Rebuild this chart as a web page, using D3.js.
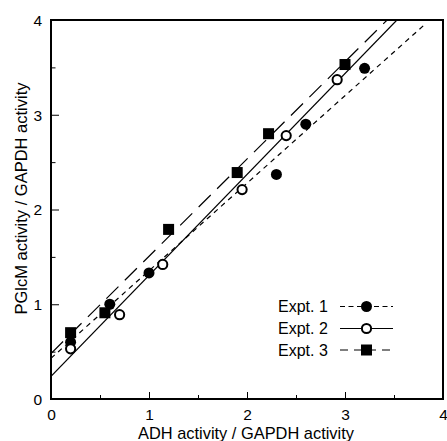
<!DOCTYPE html>
<html><head><meta charset="utf-8">
<script src="https://cdn.jsdelivr.net/npm/d3@7"></script>
<style>body{margin:0;background:#fff}svg{display:block}text{font-family:"Liberation Sans",Arial,sans-serif;fill:#000}</style>
</head><body>
<svg id="c" width="447" height="441"></svg>
<script>
// Data
const expt1X = [0.2, 0.6, 1.0, 2.3, 2.6, 3.2];
const expt1Y = [0.6, 1.0, 1.33, 2.37, 2.9, 3.49];
const expt2X = [0.2, 0.7, 1.14, 1.95, 2.4, 2.92];
const expt2Y = [0.53, 0.89, 1.42, 2.21, 2.78, 3.37];
const expt3X = [0.2, 0.55, 1.2, 1.9, 2.22, 3.0];
const expt3Y = [0.7, 0.91, 1.79, 2.39, 2.8, 3.53];
// fitted line end points [x, y]
const fit1 = [[0, 0.43], [3.8, 3.94]];
const fit2 = [[0, 0.24], [3.53, 4.0]];
const fit3 = [[0, 0.48], [3.43, 4.0]];
const majorTicks = [0, 1, 2, 3, 4];
const minorTicks = [0.5, 1.5, 2.5, 3.5];
const legendLabels = ["Expt. 1", "Expt. 2", "Expt. 3"];

const L = 51, R = 443, T = 20, B = 399;
const x = d3.scaleLinear().domain([0, 4]).range([L, R]);
const y = d3.scaleLinear().domain([0, 4]).range([B, T]);
const svg = d3.select("#c");

const series = [
  {xs: expt1X, ys: expt1Y, fit: fit1, dash: "5,4.5", mk: "fcircle"},
  {xs: expt2X, ys: expt2Y, fit: fit2, dash: null, mk: "ocircle"},
  {xs: expt3X, ys: expt3Y, fit: fit3, dash: "17,9", mk: "square"}
];

const line = d3.line().x(d => x(d[0])).y(d => y(d[1]));
svg.append("clipPath").attr("id", "clip").append("rect")
  .attr("x", L).attr("y", T).attr("width", R - L).attr("height", B - T);
const g = svg.append("g").attr("clip-path", "url(#clip)");
series.forEach(s => {
  g.append("path").attr("d", line(s.fit)).attr("fill", "none")
    .attr("stroke", "#000").attr("stroke-width", 1.2)
    .attr("stroke-dasharray", s.dash);
});

function marker(sel, type, cx, cy) {
  if (type === "square") {
    sel.append("rect").attr("x", cx - 5.5).attr("y", cy - 5.5)
      .attr("width", 11).attr("height", 11).attr("fill", "#000");
  } else if (type === "fcircle") {
    sel.append("circle").attr("cx", cx).attr("cy", cy).attr("r", 5.5).attr("fill", "#000");
  } else {
    sel.append("circle").attr("cx", cx).attr("cy", cy).attr("r", 4.6)
      .attr("fill", "#fff").attr("stroke", "#000").attr("stroke-width", 2);
  }
}
series.forEach(s => {
  s.xs.forEach((xv, i) => marker(svg, s.mk, x(xv), y(s.ys[i])));
});

// Axes with inward ticks
const xAxis = d3.axisBottom(x).tickValues(majorTicks).tickSize(-7).tickPadding(16).tickFormat(d3.format("d"));
const yAxis = d3.axisLeft(y).tickValues(majorTicks).tickSize(-8).tickPadding(16).tickFormat(d3.format("d"));
const gx = svg.append("g").attr("transform", `translate(0,${B})`).call(xAxis);
const gy = svg.append("g").attr("transform", `translate(${L},0)`).call(yAxis);
svg.append("g").attr("transform", `translate(0,${B})`)
  .call(d3.axisBottom(x).tickValues(minorTicks).tickSize(-4).tickFormat(""));
svg.append("g").attr("transform", `translate(${L},0)`)
  .call(d3.axisLeft(y).tickValues(minorTicks).tickSize(-4.5).tickFormat(""));
svg.selectAll(".domain").remove();
svg.selectAll(".tick line").attr("stroke", "#000").attr("stroke-width", 1);
gx.selectAll("text").attr("font-size", 15.5).attr("dy", "0.71em").attr("y", 10);
gy.selectAll("text").attr("font-size", 15.5).attr("x", -9).attr("dy", "0.35em");

// frame
svg.append("rect").attr("x", L).attr("y", T).attr("width", R - L).attr("height", B - T)
  .attr("fill", "none").attr("stroke", "#000").attr("stroke-width", 2);

// axis titles
svg.append("text").attr("x", 246).attr("y", 439).attr("text-anchor", "middle")
  .attr("font-size", 16.4).text("ADH activity / GAPDH activity");
svg.append("text").attr("transform", `translate(26.5,198.5) rotate(-90)`).attr("text-anchor", "middle")
  .attr("font-size", 16.5).text("PGlcM activity / GAPDH activity");

// legend
const ly = [306.5, 328.5, 350];
series.forEach((s, i) => {
  svg.append("text").attr("x", 278).attr("y", ly[i]).attr("dy", "0.36em")
    .attr("font-size", 16).text(legendLabels[i]);
  svg.append("line").attr("x1", 340).attr("x2", 393).attr("y1", ly[i]).attr("y2", ly[i])
    .attr("stroke", "#000").attr("stroke-width", 1.2)
    .attr("stroke-dasharray", s.dash ? (i === 2 ? "8,6" : "5,3.5") : null);
  marker(svg, s.mk, 366.5, ly[i]);
});
</script>
</body></html>
